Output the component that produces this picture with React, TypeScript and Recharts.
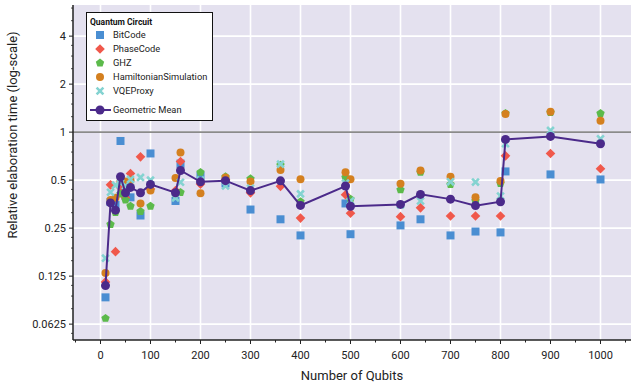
import React from 'react';
import { CartesianGrid, ComposedChart, Legend, ReferenceLine, Scatter, XAxis, YAxis } from 'recharts';

// qubit counts for every benchmark run
const qubits = [10, 20, 30, 40, 50, 60, 80, 100, 150, 160, 200, 250, 300, 360, 400, 490, 500, 600, 640, 700, 750, 800, 810, 900, 1000];

const bitCode = [0.092, 0.365, 0.35, 0.88, 0.4, 0.39, 0.3, 0.735, 0.37, 0.635, 0.53, 0.477, 0.327, 0.284, 0.225, 0.357, 0.229, 0.26, 0.284, 0.225, 0.238, 0.235, 0.567, 0.543, 0.505];
const phaseCode = [0.115, 0.467, 0.178, 0.45, 0.387, 0.55, 0.7, 0.44, 0.43, 0.655, 0.472, 0.505, 0.416, 0.457, 0.289, 0.405, 0.31, 0.295, 0.335, 0.298, 0.298, 0.298, 0.71, 0.735, 0.589];
const ghz = [0.068, 0.264, 0.314, 0.41, 0.375, 0.343, 0.318, 0.343, 0.41, 0.419, 0.56, 0.525, 0.51, 0.62, 0.366, 0.52, 0.38, 0.435, 0.56, 0.47, 0.37, 0.477, 1.31, 1.33, 1.31];
const hamiltonian = [0.131, 0.375, 0.387, 0.49, 0.49, 0.5, 0.357, 0.43, 0.515, 0.746, 0.413, 0.52, 0.49, 0.578, 0.507, 0.56, 0.507, 0.474, 0.575, 0.525, 0.39, 0.494, 1.3, 1.34, 1.18];
const vqeProxy = [0.162, 0.42, 0.465, 0.48, 0.46, 0.505, 0.52, 0.5, 0.387, 0.485, 0.5, 0.46, 0.445, 0.63, 0.41, 0.48, 0.37, 0.349, 0.37, 0.488, 0.486, 0.397, 0.845, 1.025, 0.908];
const geoMean = [0.109, 0.36, 0.324, 0.525, 0.417, 0.45, 0.416, 0.47, 0.417, 0.575, 0.488, 0.496, 0.43, 0.495, 0.347, 0.459, 0.343, 0.352, 0.407, 0.38, 0.346, 0.366, 0.9, 0.94, 0.845];

const xMajorTicks = [0, 100, 200, 300, 400, 500, 600, 700, 800, 900, 1000];
const xMinorTicks = [-50, 50, 150, 250, 350, 450, 550, 650, 750, 850, 950, 1050];
const yMajorTicks = [0.0625, 0.125, 0.25, 0.5, 1, 2, 4];
const yMinorTicks = [0.0547, 0.078125, 0.09375, 0.109375, 0.15625, 0.1875, 0.21875, 0.3125, 0.375, 0.4375, 0.625, 0.75, 0.875, 1.25, 1.5, 1.75, 2.5, 3, 3.5, 5, 6];

const COLORS = {
  bit: '#4a8ed2',
  phase: '#f0584b',
  ghz: '#5cba4b',
  ham: '#d4801f',
  vqe: '#84d3d1',
  mean: '#4b2a8a',
};

const toPoints = (values: number[]) => qubits.map((q, i) => ({ x: q, y: values[i] }));

const TICK_SIZE = 4;
const TICK_MARGIN = 3;

function SquareMark({ cx, cy, fill }: any) {
  if (cx == null || cy == null) return null;
  return <rect x={cx - 4} y={cy - 4} width={8} height={8} fill={fill} />;
}

function DiamondMark({ cx, cy, fill }: any) {
  if (cx == null || cy == null) return null;
  const r = 4.8;
  return <path d={`M${cx},${cy - r}L${cx + r},${cy}L${cx},${cy + r}L${cx - r},${cy}Z`} fill={fill} />;
}

function PentagonMark({ cx, cy, fill }: any) {
  if (cx == null || cy == null) return null;
  const r = 4.4;
  const pts = [0, 1, 2, 3, 4]
    .map((k) => {
      const a = -Math.PI / 2 + (k * 2 * Math.PI) / 5;
      return `${cx + r * Math.cos(a)},${cy + r * Math.sin(a)}`;
    })
    .join(' ');
  return <polygon points={pts} fill={fill} />;
}

function CircleMark({ cx, cy, fill, r = 4 }: any) {
  if (cx == null || cy == null) return null;
  return <circle cx={cx} cy={cy} r={r} fill={fill} />;
}

function XMark({ cx, cy, fill }: any) {
  if (cx == null || cy == null) return null;
  const d = 3.4;
  return (
    <path
      d={`M${cx - d},${cy - d}L${cx + d},${cy + d}M${cx - d},${cy + d}L${cx + d},${cy - d}`}
      stroke={fill}
      strokeWidth={2.6}
      fill="none"
    />
  );
}

function MeanMark({ cx, cy }: any) {
  return <CircleMark cx={cx} cy={cy} r={4.5} fill={COLORS.mean} />;
}

function YTick({ x, y, payload }: any) {
  const major = yMajorTicks.includes(payload.value);
  const end = x + TICK_MARGIN + TICK_SIZE;
  return (
    <g>
      <line x1={end - (major ? TICK_SIZE : 2)} x2={end} y1={y} y2={y} stroke="#222" strokeWidth={major ? 1 : 0.8} />
      {major && (
        <text x={x} y={y} dy={4} textAnchor="end" fontSize={11} fill="#222">
          {String(payload.value)}
        </text>
      )}
    </g>
  );
}

function XTick({ x, y, payload }: any) {
  const major = xMajorTicks.includes(payload.value);
  const axisY = y - TICK_SIZE - 6;
  return (
    <g>
      <line x1={x} x2={x} y1={axisY} y2={axisY + (major ? TICK_SIZE : 2.5)} stroke="#222" strokeWidth={1} />
      {major && (
        <text x={x} y={y} dy={9} textAnchor="middle" fontSize={11} fill="#222">
          {String(payload.value)}
        </text>
      )}
    </g>
  );
}

const legendItems = [
  { name: 'BitCode', Mark: SquareMark, color: COLORS.bit },
  { name: 'PhaseCode', Mark: DiamondMark, color: COLORS.phase },
  { name: 'GHZ', Mark: PentagonMark, color: COLORS.ghz },
  { name: 'HamiltonianSimulation', Mark: CircleMark, color: COLORS.ham },
  { name: 'VQEProxy', Mark: XMark, color: COLORS.vqe },
];

function LegendBox() {
  return (
    <div
      style={{
        width: 125,
        height: 107,
        border: '1.5px solid #111',
        background: '#fff',
        boxSizing: 'content-box',
        position: 'relative',
      }}
    >
      <svg width={125} height={107} style={{ position: 'absolute', left: 0, top: 0 }}>
        <text x={3} y={12} fontSize={8.5} fontWeight={700} fill="#111">
          Quantum Circuit
        </text>
        {legendItems.map((item, i) => {
          const cy = 22 + i * 14;
          return (
            <g key={item.name}>
              <item.Mark cx={13} cy={cy} fill={item.color} />
              <text x={26} y={cy + 3.3} fontSize={9.3} fill="#222">
                {item.name}
              </text>
            </g>
          );
        })}
        <line x1={3} x2={24} y1={97} y2={97} stroke={COLORS.mean} strokeWidth={2} />
        <MeanMark cx={13} cy={97} />
        <text x={26} y={100.3} fontSize={9.3} fill="#222">
          Geometric Mean
        </text>
      </svg>
    </div>
  );
}

export default function App() {
  return (
    <div style={{ position: 'absolute', left: 0, top: 0, width: 631, height: 387, overflow: 'hidden', background: '#fff', fontFamily: 'Roboto, sans-serif' }}>
      <ComposedChart width={631} height={387} margin={{ top: 5, right: 0, bottom: 0, left: 0 }}>
        <CartesianGrid
          fill="#e4e1ef"
          stroke="#ffffff"
          strokeWidth={1.6}
          horizontalValues={yMajorTicks}
          verticalValues={xMajorTicks}
        />
        <XAxis
          type="number"
          dataKey="x"
          domain={[-55, 1061]}
          allowDataOverflow
          ticks={[...xMajorTicks, ...xMinorTicks].sort((a, b) => a - b)}
          interval={0}
          height={47}
          tickSize={TICK_SIZE}
          tickMargin={6}
          tickLine={false}
          axisLine={{ stroke: '#222', strokeWidth: 1.5 }}
          tick={<XTick />}
          label={(props: any) => {
            const vb = props.viewBox;
            return (
              <text x={vb.x + vb.width / 2} y={380} textAnchor="middle" fontSize={13} fill="#222">
                Number of Qubits
              </text>
            );
          }}
        />
        <YAxis
          type="number"
          dataKey="y"
          scale="log"
          domain={[0.0497, 6.27]}
          allowDataOverflow
          ticks={[...yMajorTicks, ...yMinorTicks].sort((a, b) => a - b)}
          interval={0}
          width={73}
          tickSize={TICK_SIZE}
          tickMargin={TICK_MARGIN}
          tickLine={false}
          axisLine={{ stroke: '#222', strokeWidth: 1.5 }}
          tick={<YTick />}
          label={() => (
            <text x={13} y={135} transform="rotate(-90 13 135)" dy={4} textAnchor="middle" fontSize={13} fill="#222">
              Relative elaboration time (log-scale)
            </text>
          )}
        />
        <ReferenceLine y={1} stroke="#8a8a8a" strokeWidth={1.6} />
        <Scatter name="BitCode" data={toPoints(bitCode)} fill={COLORS.bit} shape={SquareMark} isAnimationActive={false} />
        <Scatter name="PhaseCode" data={toPoints(phaseCode)} fill={COLORS.phase} shape={DiamondMark} isAnimationActive={false} />
        <Scatter name="GHZ" data={toPoints(ghz)} fill={COLORS.ghz} shape={PentagonMark} isAnimationActive={false} />
        <Scatter name="HamiltonianSimulation" data={toPoints(hamiltonian)} fill={COLORS.ham} shape={CircleMark} isAnimationActive={false} />
        <Scatter name="VQEProxy" data={toPoints(vqeProxy)} fill={COLORS.vqe} shape={XMark} isAnimationActive={false} />
        <Scatter
          name="Geometric Mean"
          data={toPoints(geoMean)}
          fill={COLORS.mean}
          shape={MeanMark}
          line={{ stroke: COLORS.mean, strokeWidth: 2 }}
          isAnimationActive={false}
        />
        <Legend
          layout="vertical"
          align="center"
          verticalAlign="middle"
          wrapperStyle={{ left: 86, top: 12, width: 'auto', height: 'auto' }}
          content={() => <LegendBox />}
        />
      </ComposedChart>
    </div>
  );
}
